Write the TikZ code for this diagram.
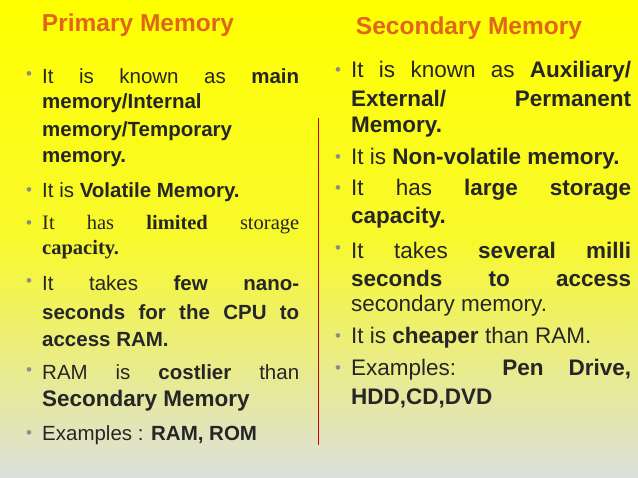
\documentclass[tikz,border=0pt]{standalone}
\usepackage{fontspec}
\setmainfont{Liberation Sans}
\newfontfamily\tms{Liberation Serif}
\definecolor{txt}{HTML}{262626}
\definecolor{head}{HTML}{E0661A}
\definecolor{bul}{HTML}{8C8C8C}
\definecolor{bot}{HTML}{DCE0DC}
\begin{document}
\begin{tikzpicture}[x=1pt,y=-1pt,
  lineL/.style={anchor=west,inner sep=0pt,text=txt,font=\fontsize{20.5}{22}\selectfont},
  lineR/.style={lineL,font=\fontsize{22.5}{24}\selectfont},
  bulL/.style={anchor=west,inner sep=0pt,text=bul,font=\fontsize{17}{18}\selectfont},
  hd/.style={inner sep=0pt,text=head,font=\fontsize{24.5}{26}\bfseries\selectfont}]
\useasboundingbox (0,0) rectangle (638,478);
\shade[top color=yellow, bottom color=bot, middle color=yellow!80!bot] (0,0) rectangle (638,478);
\draw[red!80!black, line width=0.8pt] (318,118) -- (318,445);
\node[hd] (h1) at (138,25) {Primary Memory};
\node[hd] (h2) at (469,28) {Secondary Memory};
\newcommand{\Sline}[4]{\node[lineL] at (#1,#2) {\makebox[#3pt][s]{#4}};}
\newcommand{\Pline}[3]{\node[lineL] at (#1,#2) {#3};}
\newcommand{\Rline}[4]{\node[lineR] at (#1,#2) {\makebox[#3pt][s]{#4}};}
\newcommand{\Qline}[3]{\node[lineR] at (#1,#2) {#3};}
\newcommand{\Bul}[2]{\node[bulL] at (#1,#2) {•};}
% left
\Bul{26}{76}\Sline{42}{76}{257}{It is known as \textbf{main}}
\Pline{42}{103}{\textbf{memory/Internal}}
\Pline{42}{131}{\textbf{memory/Temporary}}
\Pline{42}{159}{\textbf{memory.}}
\Bul{26}{192}\Pline{42}{192}{It is \textbf{Volatile Memory.}}
\Bul{26}{225}\node[lineL,font=\tms\fontsize{20.5}{22}\selectfont] at (42,225) {\makebox[257pt][s]{It has \textbf{limited} storage}};
\node[lineL,font=\tms\fontsize{20.5}{22}\selectfont] at (42,250) {\textbf{capacity.}};
\Bul{26}{283}\Sline{42}{283}{257}{It takes \textbf{few} \textbf{nano-}}
\Sline{42}{312}{257}{\textbf{seconds for the CPU to}}
\Pline{42}{340}{\textbf{access RAM.}}
\Bul{26}{372}\Sline{42}{372}{257}{RAM is \textbf{costlier} than}
\node[lineL,font=\fontsize{22.5}{24}\bfseries\selectfont] at (42,401) {Secondary Memory};
\Bul{26}{435}\Pline{42}{435}{Examples : \textbf{RAM, ROM}}
% right
\Bul{335}{72}\Rline{351}{72}{280}{It is known as \textbf{Auxiliary/}}
\Rline{351}{99}{280}{\textbf{External/ Permanent}}
\Qline{351}{127}{\textbf{Memory.}}
\Bul{335}{159}\Qline{351}{159}{It is \textbf{Non-volatile memory.}}
\Bul{335}{190}\Rline{351}{190}{280}{It has \textbf{large} \textbf{storage}}
\Qline{351}{218}{\textbf{capacity.}}
\Bul{335}{250}\Rline{351}{250}{280}{It takes \textbf{several} \textbf{milli}}
\Rline{351}{278}{280}{\textbf{seconds to access}}
\Qline{351}{306}{secondary memory.}
\Bul{335}{338}\Qline{351}{338}{It is \textbf{cheaper} than RAM.}
\Bul{335}{370}\Rline{351}{370}{280}{Examples: \textbf{Pen} \textbf{Drive,}}
\Qline{351}{398}{\textbf{HDD,CD,DVD}}
\end{tikzpicture}
\end{document}
